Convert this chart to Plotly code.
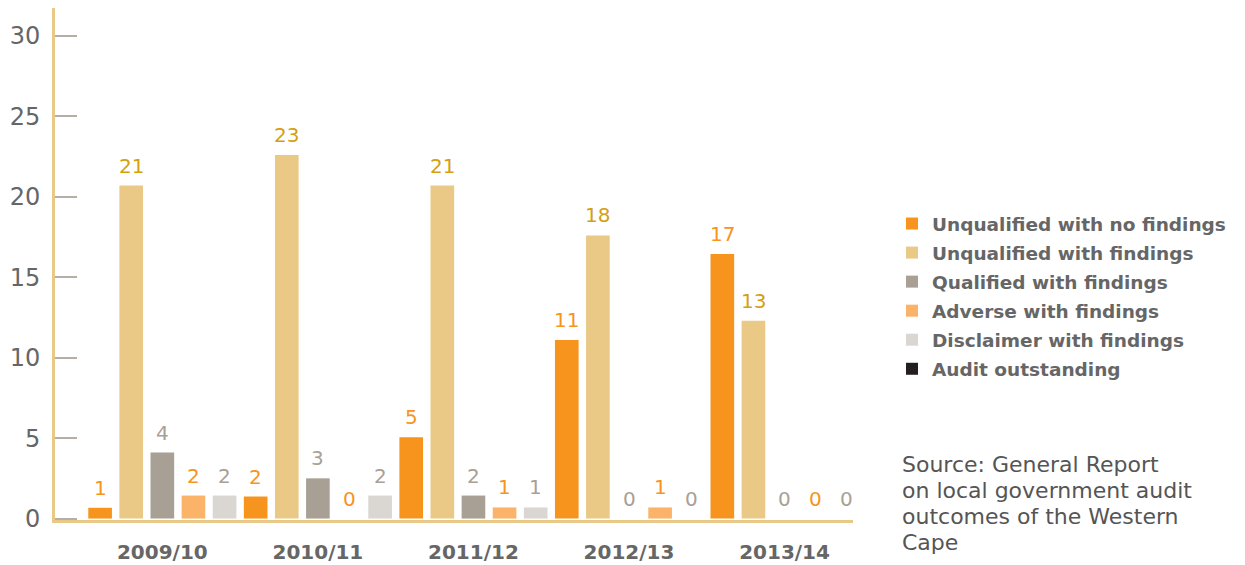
import plotly.graph_objects as go

categories = ["2009/10", "2010/11", "2011/12", "2012/13", "2013/14"]

series_names = [
    "Unqualified with no findings",
    "Unqualified with findings",
    "Qualified with findings",
    "Adverse with findings",
    "Disclaimer with findings",
    "Audit outstanding",
]

# value labels printed above the bars
labels_unq_no = [1, 2, 5, 11, 17]
labels_unq_with = [21, 23, 21, 18, 13]
labels_qualified = [4, 3, 2, 0, 0]
labels_adverse = [2, 0, 1, 1, 0]
labels_disclaimer = [2, 2, 1, 0, 0]
labels_outstanding = [None, None, None, None, None]

# bar heights as drawn in the source graphic
heights_unq_no = [0.67, 1.37, 5.05, 11.1, 16.45]
heights_unq_with = [20.7, 22.6, 20.7, 17.6, 12.3]
heights_qualified = [4.1, 2.5, 1.43, 0, 0]
heights_adverse = [1.43, 0, 0.69, 0.69, 0]
heights_disclaimer = [1.43, 1.43, 0.69, 0, 0]
heights_outstanding = [None, None, None, None, None]

y_ticks = [0, 5, 10, 15, 20, 25, 30]

source_lines = [
    "Source: General Report",
    "on local government audit",
    "outcomes of the Western",
    "Cape",
]

bar_colors = ["#f7941d", "#e9c985", "#a9a095", "#fbb36a", "#dad6d1", "#231f20"]
label_colors = ["#f7941d", "#d5a00f", "#a9a095", "#f7941d", "#a9a095", "#231f20"]

heights = [heights_unq_no, heights_unq_with, heights_qualified,
           heights_adverse, heights_disclaimer, heights_outstanding]
labels = [labels_unq_no, labels_unq_with, labels_qualified,
          labels_adverse, labels_disclaimer, labels_outstanding]
offset_groups = ["a", "b", "c", "d", "e", "e"]

# layout geometry
W, H = 1245, 565
ML, MR, MT, MB = 55, 392, 8, 45
plot_w = W - ML - MR
plot_h = H - MT - MB
x_range = [-0.69, 4.44]
bargap = 0.0
bargroupgap = 0.24
n_slots = 5
cat_px = plot_w / (x_range[1] - x_range[0])
slot_px = cat_px * (1 - bargap) / n_slots

fig = go.Figure()
for i, name in enumerate(series_names):
    fig.add_trace(go.Bar(
        x=categories,
        y=heights[i],
        name=name,
        marker=dict(color=bar_colors[i], line=dict(width=0)),
        offsetgroup=offset_groups[i],
        legendgroup=name,
        hoverinfo="skip",
    ))

annotations = []
for i in range(n_slots):
    for j, cat in enumerate(categories):
        v = labels[i][j]
        if v is None:
            continue
        annotations.append(dict(
            xref="x", yref="y",
            x=cat, y=heights[i][j] or 0,
            xshift=(i - (n_slots - 1) / 2) * slot_px,
            yshift=6,
            xanchor="center", yanchor="bottom",
            text=str(v),
            showarrow=False,
            font=dict(family="DejaVu Sans", size=20, color=label_colors[i]),
        ))

# source note, one annotation per line for tight line spacing
src_top_px = 464
src_line_px = 26
for k, line in enumerate(source_lines):
    ypx = src_top_px + k * src_line_px
    annotations.append(dict(
        xref="paper", yref="paper",
        x=(900 - ML) / plot_w, y=(H - MB - ypx) / plot_h,
        xanchor="left", yanchor="middle",
        align="left",
        showarrow=False,
        text=line,
        font=dict(family="DejaVu Sans", size=22, color="#555555"),
    ))

fig.update_layout(
    width=W,
    height=H,
    margin=dict(l=ML, r=MR, t=MT, b=MB, autoexpand=False),
    paper_bgcolor="white",
    plot_bgcolor="white",
    barmode="group",
    bargap=bargap,
    bargroupgap=bargroupgap,
    showlegend=True,
    legend=dict(
        x=(892 - ML) / plot_w, xanchor="left",
        y=(H - MB - 205) / plot_h, yanchor="top",
        font=dict(family="DejaVu Sans", size=18.5, color="#666666", weight="bold"),
        tracegroupgap=2,
        traceorder="grouped",
        bgcolor="rgba(0,0,0,0)",
    ),
    xaxis=dict(
        type="category",
        range=x_range,
        automargin=False,
        showline=True,
        linecolor="#e9c987",
        linewidth=3,
        ticks="",
        showgrid=False,
        zeroline=False,
        tickfont=dict(family="DejaVu Sans", size=20, color="#666666", weight="bold"),
        ticklabelstandoff=12,
    ),
    yaxis=dict(
        range=[-0.09, 31.74],
        tickvals=y_ticks,
        automargin=False,
        showline=True,
        linecolor="#e9c987",
        linewidth=3,
        ticks="inside",
        ticklen=22,
        tickwidth=1.5,
        tickcolor="#b7aea5",
        showgrid=False,
        zeroline=False,
        tickfont=dict(family="DejaVu Sans", size=24, color="#666666"),
        ticklabelstandoff=7,
    ),
    annotations=annotations,
)

fig.write_html(
    "out.html",
    config={"displayModeBar": False},
    post_script="document.body.style.margin='0';document.body.style.padding='0';",
)
